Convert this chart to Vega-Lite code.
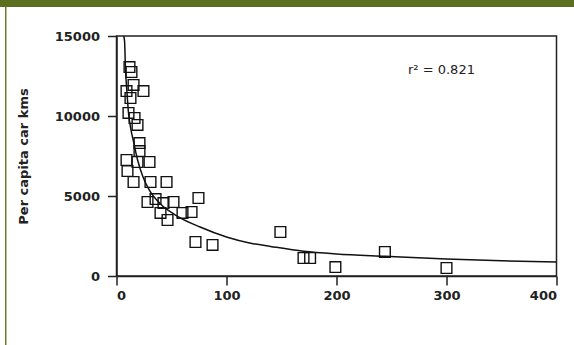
{
  "$schema": "https://vega.github.io/schema/vega-lite/v6.json",
  "padding": 0,
  "background": "white",
  "bounds": "flush",
  "spacing": 0,
  "datasets": {
    "cities": [
      {"density": 11.8, "km": 13060},
      {"density": 13.6, "km": 12750},
      {"density": 15.5, "km": 11940},
      {"density": 9.1, "km": 11560},
      {"density": 24.5, "km": 11560},
      {"density": 12.7, "km": 11125},
      {"density": 10.9, "km": 10190},
      {"density": 16.4, "km": 9875},
      {"density": 19.1, "km": 9440},
      {"density": 20.9, "km": 8310},
      {"density": 20.9, "km": 7810},
      {"density": 9.1, "km": 7250},
      {"density": 19.1, "km": 7125},
      {"density": 30.0, "km": 7125},
      {"density": 10.0, "km": 6560},
      {"density": 15.5, "km": 5875},
      {"density": 30.9, "km": 5875},
      {"density": 45.5, "km": 5875},
      {"density": 74.5, "km": 4875},
      {"density": 28.2, "km": 4625},
      {"density": 35.5, "km": 4810},
      {"density": 42.7, "km": 4560},
      {"density": 51.8, "km": 4625},
      {"density": 40.0, "km": 3940},
      {"density": 46.4, "km": 3500},
      {"density": 60.0, "km": 3940},
      {"density": 68.2, "km": 4000},
      {"density": 71.8, "km": 2125},
      {"density": 87.3, "km": 1940},
      {"density": 149, "km": 2750},
      {"density": 170, "km": 1125},
      {"density": 176, "km": 1125},
      {"density": 199, "km": 560},
      {"density": 244, "km": 1500},
      {"density": 300, "km": 500}
    ],
    "fit": [
      {"density": 6.5, "km": 15000},
      {"density": 7.3, "km": 14700},
      {"density": 8.2, "km": 12900},
      {"density": 9.5, "km": 11500},
      {"density": 10.9, "km": 10200},
      {"density": 13, "km": 9200},
      {"density": 15.5, "km": 8400},
      {"density": 19, "km": 7300},
      {"density": 24, "km": 6200},
      {"density": 30, "km": 5350},
      {"density": 40, "km": 4500},
      {"density": 53.6, "km": 3810},
      {"density": 76, "km": 3060},
      {"density": 100, "km": 2440},
      {"density": 122, "km": 2050},
      {"density": 140, "km": 1850},
      {"density": 170, "km": 1550},
      {"density": 200, "km": 1380},
      {"density": 245, "km": 1230},
      {"density": 300, "km": 1060},
      {"density": 350, "km": 950},
      {"density": 400, "km": 875}
    ],
    "note": [
      {"density": 265, "km": 12875, "label": "r² = 0.821"}
    ]
  },
  "vconcat": [
    {
      "width": 574,
      "height": 7,
      "view": {"fill": "#5b6f21", "stroke": null},
      "data": {"values": [{}]},
      "mark": {"type": "point", "opacity": 0},
      "encoding": {}
    },
    {
      "bounds": "flush",
      "spacing": 109.5,
      "hconcat": [
        {
          "width": 6.5,
          "height": 338,
          "view": {
            "stroke": null,
            "fill": {
              "gradient": "linear",
              "x1": 0, "y1": 0, "x2": 1, "y2": 0,
              "stops": [
                {"offset": 0, "color": "#ffffff"},
                {"offset": 0.77, "color": "#ffffff"},
                {"offset": 0.77, "color": "#6a7f2e"},
                {"offset": 1, "color": "#6a7f2e"}
              ]
            }
          },
          "data": {"values": [{}]},
          "mark": {"type": "point", "opacity": 0},
          "encoding": {}
        },
        {
          "bounds": "flush",
          "spacing": 28,
          "vconcat": [
            {
              "width": 440,
              "height": 1,
              "view": {"stroke": null, "fill": null},
              "data": {"values": [{}]},
              "mark": {"type": "point", "opacity": 0},
              "encoding": {}
            },
            {
              "width": 440,
              "height": 240,
              "view": {"stroke": "#222", "strokeWidth": 1.5},
              "encoding": {
                "x": {
                  "field": "density",
                  "type": "quantitative",
                  "scale": {"domain": [0, 400], "nice": false},
                  "axis": {
                    "values": [0, 100, 200, 300, 400],
                    "format": "d",
                    "title": null,
                    "grid": false,
                    "labelPadding": 4,
                    "tickSize": 9
                  }
                },
                "y": {
                  "field": "km",
                  "type": "quantitative",
                  "scale": {"domain": [0, 15000], "nice": false},
                  "axis": {
                    "values": [0, 5000, 10000, 15000],
                    "format": "d",
                    "title": "Per capita car kms",
                    "grid": false,
                    "labelPadding": 8,
                    "tickSize": 9,
                    "titlePadding": 24
                  }
                }
              },
              "layer": [
                {
                  "data": {"name": "fit"},
                  "mark": {"type": "line", "color": "#111", "strokeWidth": 1.5, "interpolate": "monotone", "clip": true}
                },
                {
                  "data": {"name": "cities"},
                  "mark": {"type": "point", "shape": "square", "filled": false, "color": "#111", "strokeWidth": 1.4, "size": 115, "opacity": 1}
                },
                {
                  "data": {"name": "note"},
                  "mark": {"type": "text", "align": "left", "baseline": "middle", "font": "DejaVu Sans", "fontSize": 13, "color": "#222"},
                  "encoding": {"text": {"field": "label"}}
                }
              ]
            }
          ]
        }
      ]
    }
  ],
  "config": {
    "axis": {
      "labelFont": "DejaVu Sans",
      "labelFontWeight": "bold",
      "labelFontSize": 13,
      "labelColor": "#222",
      "titleFont": "DejaVu Sans",
      "titleFontWeight": "bold",
      "titleFontSize": 13,
      "titleColor": "#222",
      "domainColor": "#222",
      "domainWidth": 1.5,
      "tickColor": "#222",
      "tickWidth": 1.5
    }
  }
}
